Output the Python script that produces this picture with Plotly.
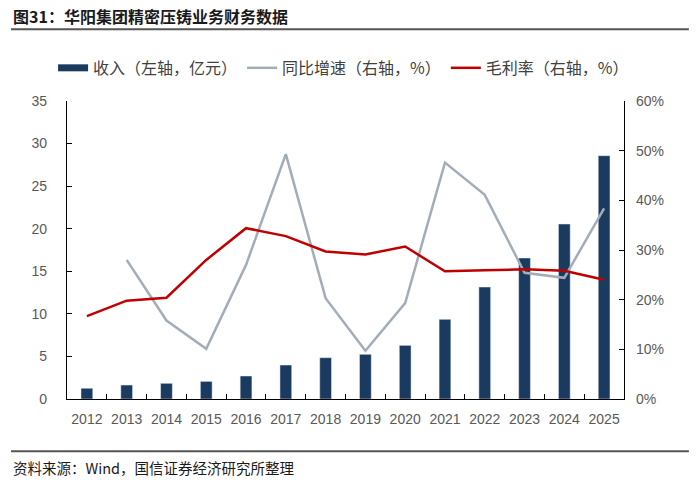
import plotly.graph_objects as go

# data
years = ["2012", "2013", "2014", "2015", "2016", "2017", "2018",
         "2019", "2020", "2021", "2022", "2023", "2024", "2025"]
revenue = [1.26, 1.64, 1.84, 2.07, 2.70, 3.99, 4.85,
           5.25, 6.30, 9.36, 13.15, 16.56, 20.55, 28.58]      # 亿元
growth = [None, 28.0, 15.8, 10.1, 27.0, 49.3, 20.3,
          9.7, 19.3, 47.6, 41.1, 25.4, 24.4, 38.4]            # %
margin = [16.7, 19.8, 20.4, 28.0, 34.4, 32.8, 29.7,
          29.1, 30.7, 25.7, 25.9, 26.1, 25.8, 24.0]           # %

left_ticks = [0, 5, 10, 15, 20, 25, 30, 35]
right_ticks = [0, 10, 20, 30, 40, 50, 60]
right_labels = [f"{v}%" for v in right_ticks]

navy = "#1B3A5F"
grey = "#A3ADB8"
red = "#C00000"
fonts = "Liberation Sans, Arial, Noto Sans CJK SC"
cjk = "Noto Sans CJK SC, Liberation Sans"

fig = go.Figure()

fig.add_trace(go.Bar(x=years, y=revenue, marker_color=navy, showlegend=False,
                     name="收入（左轴，亿元）"))
# legend stand-in so the bar key is a flat wide block like the original
fig.add_trace(go.Scatter(x=[None], y=[None], mode="lines", name="收入（左轴，亿元）",
                         line=dict(color=navy, width=7)))
fig.add_trace(go.Scatter(x=years, y=growth, mode="lines", name="同比增速（右轴，%）",
                         line=dict(color=grey, width=2.5), yaxis="y2", connectgaps=False))
fig.add_trace(go.Scatter(x=years, y=margin, mode="lines", name="毛利率（右轴，%）",
                         line=dict(color=red, width=2.5), yaxis="y2"))

axis_common = dict(showgrid=False, zeroline=False, showline=True, linecolor="#000000",
                   linewidth=1.3, ticks="inside", ticklen=5, tickcolor="#000000",
                   tickfont=dict(family=fonts, size=14, color="#595959"))

fig.update_layout(
    width=700, height=493,
    margin=dict(l=67, r=76, t=101, b=94),
    paper_bgcolor="white", plot_bgcolor="white",
    bargap=0.705,
    font=dict(family=fonts, size=14, color="#595959"),
    xaxis=dict(type="category", tickson="boundaries", range=[-0.5, 13.5],
               tickangle=0, ticklabelstandoff=7, **axis_common),
    yaxis=dict(range=[0, 35], tickvals=left_ticks, ticklabelstandoff=16, **axis_common),
    yaxis2=dict(range=[0, 60], tickvals=right_ticks, ticktext=right_labels,
                overlaying="y", side="right", ticklabelstandoff=8, **axis_common),
    legend=dict(orientation="h", x=-0.025, xanchor="left", y=1.111, yanchor="middle",
                font=dict(family=cjk, size=16, color="#404040"),
                bgcolor="rgba(0,0,0,0)"),
    showlegend=True,
)

# title, source and the two rules across the page
fig.add_annotation(text="<b>图31：华阳集团精密压铸业务财务数据</b>", xref="paper", yref="paper",
                   x=-0.1005, y=1.2857, xanchor="left", yanchor="middle", showarrow=False,
                   font=dict(family=cjk, size=16, color="#1a1a1a"))
fig.add_annotation(text="资料来源：Wind，国信证券经济研究所整理", xref="paper", yref="paper",
                   x=-0.1005, y=-0.2292, xanchor="left", yanchor="middle", showarrow=False,
                   font=dict(family=cjk, size=14.5, color="#1a1a1a"))
for yy in [1.241, -0.1755]:
    fig.add_shape(type="line", xref="paper", yref="paper", x0=-0.1005, x1=1.1165,
                  y0=yy, y1=yy, line=dict(color="#555555", width=2))

fig.write_html("out.html", config={"displayModeBar": False},
               post_script="document.body.style.margin='0';")
